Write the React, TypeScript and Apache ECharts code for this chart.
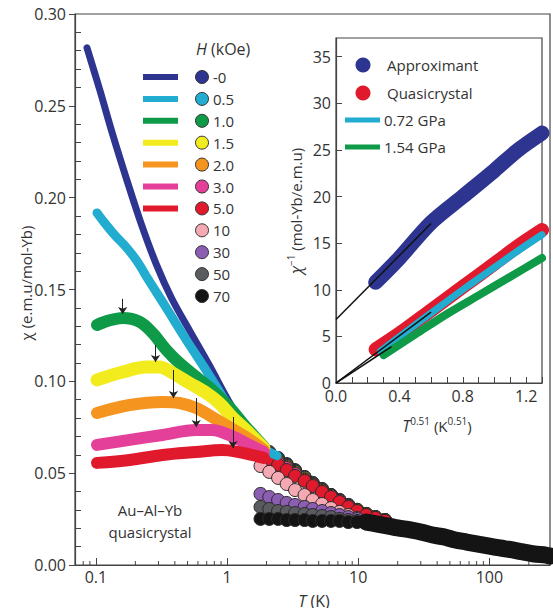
import React, { useEffect, useRef } from 'react';
import * as echarts from 'echarts';

const FONT = '"Open Sans", "Noto Sans", "DejaVu Sans", sans-serif';
const TXT = '#333333';
const AX = '#444444';

// ---------- main panel: field legend ----------
const fieldLabels = ['-0', '0.5', '1.0', '1.5', '2.0', '3.0', '5.0', '10', '30', '50', '70'];
const fieldColors = ['#2e3590', '#22acd0', '#0f9a48', '#f2ec1e', '#f5941e', '#e4409a', '#e01a2c', '#f4a9b3', '#8c5eb2', '#5a5b5f', '#141414'];

// ---------- main panel: low-temperature curves [T (K), chi] ----------
const lineH0 = [[0.0855, 0.2816], [0.107, 0.2587], [0.1345, 0.2342], [0.172, 0.2097], [0.223, 0.1852], [0.29, 0.1634], [0.377, 0.1454], [0.515, 0.128], [0.731, 0.1089], [1.072, 0.0871], [1.6, 0.0681], [2.15, 0.0615]];
const lineH05 = [[0.102, 0.1917], [0.115, 0.1868], [0.139, 0.1797], [0.172, 0.1727], [0.208, 0.165], [0.252, 0.1552], [0.333, 0.1416], [0.472, 0.1242], [0.705, 0.1051], [1.072, 0.0844], [1.6, 0.067], [2.4, 0.0595]];
const lineH10 = [[0.102, 0.1307], [0.123, 0.1329], [0.16, 0.1345], [0.216, 0.1324], [0.27, 0.1264], [0.345, 0.1171], [0.433, 0.11], [0.582, 0.1024], [0.769, 0.0953], [1.035, 0.0861], [1.39, 0.0752], [1.91, 0.0643]];
const lineH15 = [[0.102, 0.1008], [0.16, 0.1051], [0.243, 0.1078], [0.305, 0.1078], [0.383, 0.1046], [0.515, 0.0991], [0.693, 0.0937], [0.87, 0.0882], [1.09, 0.0806], [1.39, 0.0735], [1.91, 0.0637]];
const lineH20 = [[0.102, 0.0828], [0.181, 0.0871], [0.322, 0.0888], [0.433, 0.0882], [0.582, 0.0855], [0.769, 0.0806], [1.035, 0.0752], [1.39, 0.0697], [1.91, 0.0626]];
const lineH30 = [[0.102, 0.0654], [0.181, 0.0681], [0.322, 0.0708], [0.582, 0.0735], [0.769, 0.0735], [1.035, 0.0708], [1.39, 0.0664], [1.91, 0.0615]];
const lineH50 = [[0.102, 0.0556], [0.181, 0.0572], [0.322, 0.0599], [0.582, 0.0615], [0.917, 0.0626], [1.23, 0.0615], [1.55, 0.0599], [1.91, 0.0583]];

// ---------- main panel: circle data (T shared) ----------
const circT = [1.8, 2.1, 2.45, 2.85, 3.3, 3.9, 4.5, 5.3, 6.2, 7.2, 8.4, 9.8, 11.5, 13.5, 16];
const circH0 = [0.0643, 0.0615, 0.0583, 0.055, 0.0517, 0.0479, 0.0447, 0.0414, 0.0381, 0.0354, 0.0327, 0.03, 0.0278, 0.0261, 0.0245];
const circH05 = [0.0637, 0.061, 0.0577, 0.0545, 0.0512, 0.0479, 0.0447, 0.0414, 0.0381, 0.0354, 0.0327, 0.03, 0.0278, 0.0261, 0.0245];
const circH10 = [0.0632, 0.0605, 0.0572, 0.0539, 0.0512, 0.0474, 0.0441, 0.0408, 0.0381, 0.0349, 0.0321, 0.03, 0.0278, 0.0261, 0.0245];
const circH15 = [0.0626, 0.0599, 0.0566, 0.0539, 0.0507, 0.0474, 0.0441, 0.0408, 0.0376, 0.0349, 0.0321, 0.03, 0.0278, 0.0261, 0.0245];
const circH20 = [0.0621, 0.0594, 0.0561, 0.0534, 0.0501, 0.0468, 0.0436, 0.0408, 0.0376, 0.0349, 0.0321, 0.03, 0.0272, 0.0256, 0.024];
const circH30 = [0.0615, 0.0588, 0.0556, 0.0528, 0.0496, 0.0463, 0.0436, 0.0403, 0.0376, 0.0349, 0.0321, 0.0294, 0.0272, 0.0256, 0.024];
const circH50 = [0.0599, 0.0572, 0.0545, 0.0517, 0.0485, 0.0458, 0.043, 0.0398, 0.037, 0.0343, 0.0316, 0.0294, 0.0272, 0.0256, 0.024];
const circH100 = [0.0539, 0.0507, 0.0474, 0.0441, 0.0408, 0.0381, 0.0354, 0.0332, 0.031, 0.0289, 0.0272, 0.0256, 0.024, 0.0229, 0.0218];
const circH300 = [0.0387, 0.037, 0.0354, 0.0338, 0.0327, 0.0316, 0.0305, 0.0294, 0.0283, 0.0272, 0.0261, 0.0251, 0.024, 0.0229, 0.0218];
const circH500 = [0.0316, 0.0305, 0.0294, 0.0289, 0.0283, 0.0278, 0.0272, 0.0267, 0.0261, 0.0251, 0.0245, 0.024, 0.0234, 0.0223, 0.0212];
const circH700 = [0.0251, 0.0251, 0.0251, 0.0245, 0.0245, 0.0245, 0.024, 0.024, 0.024, 0.024, 0.0234, 0.0234, 0.0234, 0.0229, 0.0218];

// high-temperature band (all fields merge)
const highT = [11.5, 14, 17, 20, 25, 30, 37, 45, 55, 67, 82, 100, 120, 150, 180, 220, 270, 290];
const highChi = [0.0234, 0.0223, 0.0212, 0.0202, 0.0191, 0.018, 0.0163, 0.0153, 0.0136, 0.0125, 0.0114, 0.0103, 0.0093, 0.0082, 0.0071, 0.006, 0.0054, 0.0049];

// peak arrows
const arrowT = [0.16, 0.285, 0.39, 0.582, 1.11];
const arrowFrom = [0.1449, 0.1198, 0.1062, 0.0909, 0.0806];
const arrowTo = [0.1367, 0.1105, 0.0909, 0.0751, 0.0637];

// log-axis minor ticks
const xMinorTicks = [0.08, 0.09, 0.2, 0.3, 0.4, 0.5, 0.6, 0.7, 0.8, 0.9, 2, 3, 4, 5, 6, 7, 8, 9, 20, 30, 40, 50, 60, 70, 80, 90, 200];

// ---------- inset: [T^0.51, 1/chi] ----------
const insetLabels = ['Approximant', 'Quasicrystal', '0.72 GPa', '1.54 GPa'];
const insetColors = ['#2e3590', '#e01a2c', '#22acd0', '#0f9a48'];
const approximant = [[0.25, 10.8], [0.4, 13.4], [0.6, 17.2], [0.8, 20.0], [1.0, 22.8], [1.15, 25.0], [1.3, 26.8]];
const quasicrystal = [[0.25, 3.6], [0.4, 5.3], [0.6, 7.8], [0.8, 10.3], [1.0, 12.8], [1.15, 14.7], [1.3, 16.4]];
const gpa072 = [[0.28, 3.4], [0.45, 5.6], [0.6, 7.5], [0.8, 10.0], [1.0, 12.4], [1.15, 14.2], [1.3, 15.9]];
const gpa154 = [[0.3, 3.0], [0.5, 5.2], [0.7, 7.4], [0.9, 9.4], [1.1, 11.4], [1.3, 13.4]];
const fitApprox = [[0, 6.8], [0.6, 17.1]];
const fitQuasi = [[0, 0], [0.6, 7.6]];
const fitGreen = [[0, 0], [0.35, 3.9]];

function buildOption(): any {
  const lineData = [lineH0, lineH05, lineH10, lineH15, lineH20, lineH30, lineH50];
  const lineWidths = [7, 9, 12, 13, 12, 12, 12];
  const circData = [circH0, circH05, circH10, circH15, circH20, circH30, circH50, circH100, circH300, circH500, circH700];

  const series: any[] = [];
  lineData.forEach((d, i) => {
    series.push({
      type: 'line', xAxisIndex: 0, yAxisIndex: 0, data: d, showSymbol: false, smooth: 0.35, silent: true,
      lineStyle: { color: fieldColors[i], width: lineWidths[i], cap: 'round', join: 'round' },
      markLine: i === 6 ? {
        silent: true, symbol: ['none', 'arrow'], symbolSize: 7,
        lineStyle: { color: '#222', width: 1, type: 'solid' }, label: { show: false },
        data: arrowT.map((t, k) => [{ coord: [t, arrowFrom[k]] }, { coord: [t, arrowTo[k]] }]),
      } : undefined,
    });
  });
  circData.forEach((d, i) => {
    if (i === 10) {
      series.push({
        type: 'line', xAxisIndex: 0, yAxisIndex: 0, showSymbol: false, silent: true, smooth: 0.3,
        data: highT.map((t, k) => [t, highChi[k]]),
        lineStyle: { color: fieldColors[10], width: 17, cap: 'round', join: 'round' },
      });
    }
    series.push({
      type: 'scatter', xAxisIndex: 0, yAxisIndex: 0, silent: true, symbolSize: 13,
      data: circT.map((t, k) => [t, d[k]]),
      itemStyle: { color: fieldColors[i], borderColor: '#2a2a2a', borderWidth: 1, opacity: 1 },
    });
  });
  series.push({
    type: 'custom', xAxisIndex: 0, yAxisIndex: 0, silent: true, clip: false,
    data: xMinorTicks.map((v) => [v, 0]),
    renderItem: (_p: any, api: any) => {
      const pt = api.coord([api.value(0), 0]);
      return { type: 'line', shape: { x1: pt[0], y1: pt[1], x2: pt[0], y2: pt[1] - 4 }, style: { stroke: AX, lineWidth: 1 } };
    },
  });

  // inset
  const insetData = [approximant, quasicrystal, gpa072, gpa154];
  const insetWidths = [15, 14, 7, 8];
  insetData.forEach((d, i) => {
    series.push({
      type: 'line', xAxisIndex: 1, yAxisIndex: 1, data: d, showSymbol: false, smooth: 0.3, silent: true,
      lineStyle: { color: insetColors[i], width: insetWidths[i], cap: 'round', join: 'round' },
    });
  });
  [fitApprox, fitQuasi, fitGreen].forEach((d) => {
    series.push({
      type: 'line', xAxisIndex: 1, yAxisIndex: 1, data: d, showSymbol: false, silent: true,
      lineStyle: { color: '#111', width: 1.5 },
    });
  });

  const base = { fontFamily: FONT, fill: TXT };
  const rich = {
    it: { fontStyle: 'italic', fontFamily: FONT, fontSize: 16, fill: TXT, color: TXT, lineHeight: 20 },
    sup: { fontFamily: FONT, fontSize: 10, fill: TXT, color: TXT, verticalAlign: 'top', lineHeight: 10 },
  };
  const graphic: any[] = [];
  const txt = (x: number, y: number, text: string, size: number, extra: any = {}) => ({
    type: 'text', x, y, silent: true, z: 100,
    ...extra,
    style: { ...base, text, fontSize: size, align: extra.align || 'left', verticalAlign: 'middle', textAlign: extra.align || 'left', textVerticalAlign: 'middle', lineHeight: 20, rich, ...(extra.style || {}) },
  });

  graphic.push(txt(26, 283, 'χ (e.m.u/mol-Yb)', 15, { rotation: Math.PI / 2, align: 'center' }));
  graphic.push(txt(314, 601, '{it|T} (K)', 16, { align: 'center' }));
  graphic.push(txt(196, 49, '{it|H} (kOe)', 16));
  fieldLabels.forEach((lab, i) => {
    const y = 77 + 21.9 * i;
    if (i < 7) {
      graphic.push({ type: 'line', silent: true, z: 100, shape: { x1: 143, y1: y, x2: 178, y2: y }, style: { stroke: fieldColors[i], lineWidth: 6 } });
    }
    graphic.push({ type: 'circle', silent: true, z: 100, shape: { cx: 202, cy: y, r: 6.5 }, style: { fill: fieldColors[i], stroke: '#333', lineWidth: 1 } });
    graphic.push(txt(213, y, lab, 15));
  });
  graphic.push(txt(150, 510, 'Au–Al–Yb', 15, { align: 'center' }));
  graphic.push(txt(150, 532, 'quasicrystal', 15, { align: 'center' }));

  // inset legend
  const insetRows = [65, 93, 120, 147];
  insetLabels.forEach((lab, i) => {
    const y = insetRows[i];
    if (i < 2) {
      graphic.push({ type: 'circle', silent: true, z: 100, shape: { cx: 363, cy: y, r: 7.5 }, style: { fill: insetColors[i] } });
      graphic.push(txt(387, y, lab, 15));
    } else {
      graphic.push({ type: 'line', silent: true, z: 100, shape: { x1: 345, y1: y, x2: 380, y2: y }, style: { stroke: insetColors[i], lineWidth: 5 } });
      graphic.push(txt(384, y, lab, 15));
    }
  });
  graphic.push(txt(437, 426, '{it|T}{sup|0.51} (K{sup|0.51})', 15, { align: 'center' }));
  graphic.push(txt(296, 211, '{it|χ}{sup|−1} (mol-Yb/e.m.u)', 15, { rotation: Math.PI / 2, align: 'center' }));

  const labelStyle = { color: TXT, fontFamily: FONT, fontSize: 16 };

  return {
    animation: false,
    backgroundColor: '#ffffff',
    grid: [
      { left: 75, top: 14, right: 0, bottom: 43, show: true, borderColor: AX, borderWidth: 1.2, backgroundColor: 'transparent' },
      { left: 336, top: 38, right: 11, bottom: 225, show: true, borderColor: AX, borderWidth: 1.2, backgroundColor: 'transparent' },
    ],
    xAxis: [
      {
        type: 'log', gridIndex: 0, logBase: 10, min: 0.0693, max: 290,
        axisLine: { show: true, onZero: false, lineStyle: { color: AX, width: 1.2 } },
        axisTick: { show: true, inside: true, length: 7, lineStyle: { color: AX } },
        axisLabel: {
          ...labelStyle, margin: 4, interval: 0,
          formatter: (v: number) => {
            const l = Math.log10(v);
            return Math.abs(l - Math.round(l)) < 1e-6 ? String(Math.round(v * 1000) / 1000) : '';
          },
        },
        splitLine: { show: false },
      },
      {
        type: 'value', gridIndex: 1, min: 0, max: 1.3, interval: 0.1,
        axisLine: { show: true, onZero: false, lineStyle: { color: AX, width: 1.2 } },
        axisTick: { show: true, inside: true, length: 6, lineStyle: { color: AX } },
        axisLabel: { ...labelStyle, margin: 5, formatter: (v: number) => (Math.round(v * 10) % 4 === 0 ? v.toFixed(1) : '') },
        splitLine: { show: false },
      },
    ],
    yAxis: [
      {
        type: 'value', gridIndex: 0, min: 0, max: 0.3, interval: 0.05,
        axisLine: { show: true, onZero: false, lineStyle: { color: AX, width: 1.2 } },
        axisTick: { show: true, inside: false, length: 6, lineStyle: { color: AX } },
        minorTick: { show: true, splitNumber: 5, length: -6, lineStyle: { color: AX } },
        axisLabel: { ...labelStyle, margin: 9, formatter: (v: number) => v.toFixed(2) },
        splitLine: { show: false },
        minorSplitLine: { show: false },
      },
      {
        type: 'value', gridIndex: 1, min: 0, max: 37, interval: 5,
        axisLine: { show: true, onZero: false, lineStyle: { color: AX, width: 1.2 } },
        axisTick: { show: true, inside: true, length: 6, lineStyle: { color: AX } },
        axisLabel: { ...labelStyle, margin: 5, showMaxLabel: false },
        splitLine: { show: false },
      },
    ],
    series,
    graphic,
  };
}

export default function App() {
  const ref = useRef<HTMLDivElement>(null);
  useEffect(() => {
    if (!ref.current) return;
    const chart = echarts.init(ref.current, null, { renderer: 'svg' });
    chart.setOption(buildOption());
    return () => chart.dispose();
  }, []);
  return <div ref={ref} style={{ position: 'fixed', left: 0, top: 0, width: 553, height: 608, background: '#fff' }} />;
}
